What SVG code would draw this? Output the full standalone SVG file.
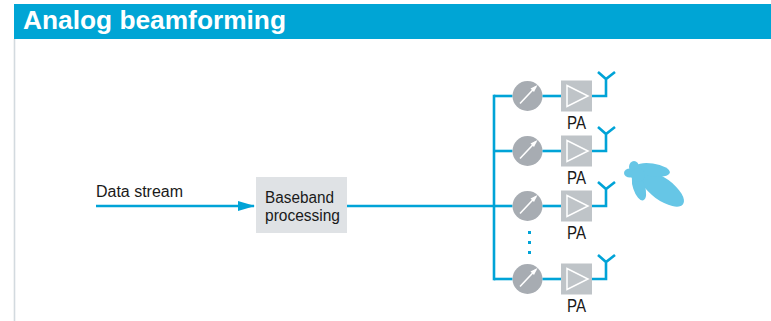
<svg xmlns="http://www.w3.org/2000/svg" width="771" height="321" viewBox="0 0 771 321">
<defs>
<style>
.wire{fill:none;stroke:#00a3d7;stroke-width:2.6}
.ant{fill:none;stroke:#00a3d7;stroke-width:2.6;stroke-linejoin:miter}
.ps{fill:#a7acb2}
.psa{fill:none;stroke:#ffffff;stroke-width:1.6}
.pa{fill:#bfc4c8}
.tri{fill:none;stroke:#ffffff;stroke-width:1.5}
.lbl{font-family:"Liberation Sans",Arial,sans-serif;font-size:19px;fill:#1a1a1a}
.txt{font-family:"Liberation Sans",Arial,sans-serif;font-size:16px;fill:#1a1a1a}
.dot{fill:#00a3d7}
.beam{fill:#66c6e6}
</style>
<marker id="arr" markerWidth="18" markerHeight="10" refX="16" refY="5" orient="auto" markerUnits="userSpaceOnUse">
<path d="M0,0 L17,5 L0,10 Z" fill="#00a3d7"/>
</marker>
<g id="chain">
<line class="wire" x1="494" y1="0" x2="512.5" y2="0"/>
<circle class="ps" cx="527.5" cy="0" r="15"/>
<line class="psa" x1="520" y1="7.5" x2="536" y2="-9.5"/>
<path d="M537.5,-11 L530.5,-7.5 L534,-4 Z" fill="#ffffff"/>
<line class="wire" x1="542.5" y1="0" x2="561" y2="0"/>
<rect class="pa" x="561" y="-15.5" width="31" height="31"/>
<path class="tri" d="M567,-10.5 L588,0 L567,10.5 Z"/>
<path class="ant" d="M592,0 H606 V-17 M598,-24 L606,-17 L615,-24"/>
</g>
</defs>
<g id="header">
<rect x="14" y="4" width="757" height="35" fill="#00a5d5"/>
<text x="23" y="29" font-family="Liberation Sans,Arial,sans-serif" font-weight="bold" font-size="25" fill="#ffffff" textLength="263" lengthAdjust="spacingAndGlyphs">Analog beamforming</text>
<line x1="14.5" y1="39" x2="14.5" y2="321" stroke="#d3dadf" stroke-width="1.6"/>
</g>
<g id="connectors">
<line class="wire" x1="96" y1="206" x2="254" y2="206" marker-end="url(#arr)"/>
<line class="wire" x1="347" y1="206" x2="494" y2="206"/>
<line class="wire" x1="494" y1="94.7" x2="494" y2="280.3"/>
</g>
<g id="data-stream">
<text class="txt" x="96" y="196.5" font-size="16.5" textLength="87" lengthAdjust="spacingAndGlyphs">Data stream</text>
</g>
<g id="baseband">
<rect x="256" y="177" width="91" height="56" fill="#dfe2e5"/>
<text class="txt" x="265" y="202.5" font-size="18" textLength="69" lengthAdjust="spacingAndGlyphs">Baseband</text>
<text class="txt" x="265" y="221" font-size="18" textLength="75" lengthAdjust="spacingAndGlyphs">processing</text>
</g>
<g id="branch1">
<use href="#chain" y="96"/>
<text class="lbl" x="576.5" y="129" text-anchor="middle" textLength="19" lengthAdjust="spacingAndGlyphs">PA</text>
</g>
<g id="branch2">
<use href="#chain" y="151"/>
<text class="lbl" x="576.5" y="184" text-anchor="middle" textLength="19" lengthAdjust="spacingAndGlyphs">PA</text>
</g>
<g id="branch3">
<use href="#chain" y="206"/>
<text class="lbl" x="576.5" y="239" text-anchor="middle" textLength="19" lengthAdjust="spacingAndGlyphs">PA</text>
</g>
<g id="dots">
<rect class="dot" x="528" y="231" width="3" height="3"/>
<rect class="dot" x="528" y="241" width="3" height="3"/>
<rect class="dot" x="528" y="251" width="3" height="3"/>
</g>
<g id="branch4">
<use href="#chain" y="279"/>
<text class="lbl" x="576.5" y="312" text-anchor="middle" textLength="19" lengthAdjust="spacingAndGlyphs">PA</text>
</g>
<g id="beam">
<ellipse class="beam" cx="662" cy="189" rx="26" ry="11" transform="rotate(36 662 189)"/>
<ellipse class="beam" cx="652" cy="170" rx="18" ry="6.5" transform="rotate(8 652 170)"/>
<ellipse class="beam" cx="639" cy="187" rx="14" ry="6" transform="rotate(72 639 187)"/>
<ellipse class="beam" cx="634" cy="167" rx="5" ry="6"/>
<ellipse class="beam" cx="630" cy="173" rx="6" ry="4.5"/>
<circle class="beam" cx="638" cy="175" r="7"/>
</g>
</svg>
